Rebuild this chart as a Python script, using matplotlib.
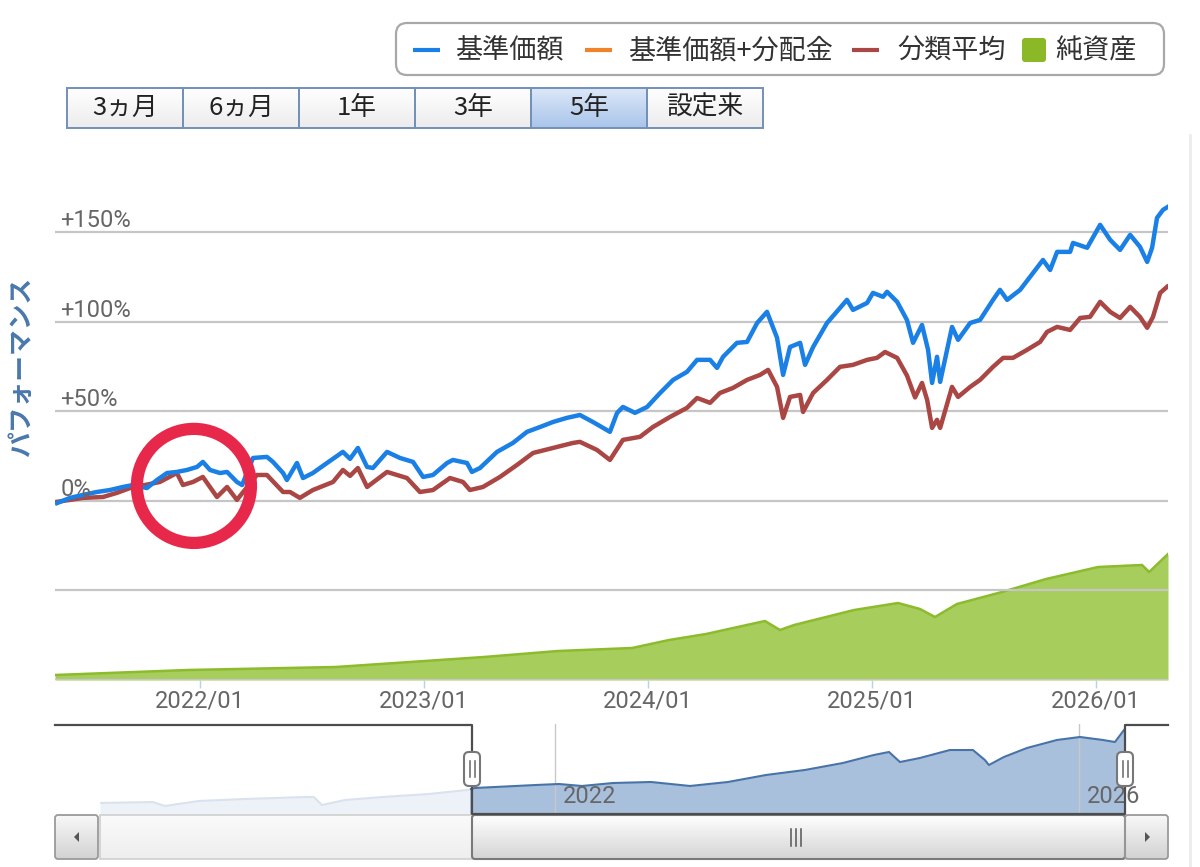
import matplotlib
matplotlib.use('Agg')
import matplotlib.pyplot as plt
import numpy as np
from matplotlib.patches import FancyBboxPatch, Rectangle, Ellipse, Polygon
from matplotlib.colors import LinearSegmentedColormap

plt.rcParams['font.family'] = ['Noto Sans CJK JP', 'DejaVu Sans']

# ---------------- data ----------------
# time axis values are decimal years
blue_t = [2021.362, 2021.420, 2021.478, 2021.540, 2021.598, 2021.656, 2021.701, 2021.763, 2021.808, 2021.853,
          2021.897, 2021.942, 2021.987, 2022.013, 2022.045, 2022.089, 2022.121, 2022.165, 2022.188, 2022.237,
          2022.299, 2022.326, 2022.371, 2022.388, 2022.433, 2022.460, 2022.504, 2022.567, 2022.638, 2022.670,
          2022.705, 2022.746, 2022.772, 2022.835, 2022.893, 2022.951, 2022.996, 2023.040, 2023.103, 2023.129,
          2023.192, 2023.214, 2023.250, 2023.326, 2023.397, 2023.460, 2023.518, 2023.576, 2023.638, 2023.696,
          2023.754, 2023.830, 2023.862, 2023.888, 2023.942, 2023.996, 2024.054, 2024.112, 2024.174, 2024.219,
          2024.277, 2024.308, 2024.335, 2024.397, 2024.442, 2024.487, 2024.531, 2024.576, 2024.603, 2024.634,
          2024.679, 2024.701, 2024.737, 2024.799, 2024.857, 2024.888, 2024.915, 2024.978, 2025.004, 2025.049,
          2025.067, 2025.112, 2025.156, 2025.183, 2025.223, 2025.250, 2025.268, 2025.290, 2025.304, 2025.357,
          2025.384, 2025.438, 2025.482, 2025.540, 2025.571, 2025.603, 2025.661, 2025.719, 2025.763, 2025.795,
          2025.826, 2025.884, 2025.897, 2025.960, 2026.018, 2026.063, 2026.107, 2026.152, 2026.196, 2026.228,
          2026.250, 2026.272, 2026.299, 2026.321]
blue_pct = [-1.2, 1.7, 3.4, 5.0, 6.1, 7.8, 8.9, 7.2, 11.7, 15.6,
            16.2, 17.3, 19.0, 21.8, 17.3, 15.6, 16.2, 10.6, 8.9, 24.0,
            24.6, 21.8, 15.6, 11.7, 21.2, 12.8, 15.6, 21.2, 27.4, 23.5,
            29.6, 19.0, 18.4, 27.4, 24.0, 21.8, 13.4, 14.5, 21.2, 22.9,
            21.2, 16.2, 18.4, 27.4, 32.4, 38.6, 41.3, 44.1, 46.4, 48.0,
            44.1, 38.6, 49.2, 52.5, 49.2, 52.5, 60.3, 67.6, 72.1, 78.8,
            78.8, 74.3, 80.5, 88.3, 88.8, 99.4, 105.6, 91.1, 70.4, 86.0,
            88.3, 76.0, 86.0, 99.4, 107.8, 112.3, 106.7, 110.6, 116.2, 114.0,
            116.8, 111.2, 101.0, 88.3, 98.3, 84.4, 65.9, 80.5, 66.5, 97.2,
            90.0, 99.4, 101.1, 112.3, 117.9, 112.3, 117.9, 127.4, 134.6, 129.0,
            139.1, 139.1, 144.1, 141.4, 154.2, 145.8, 140.2, 148.6, 141.9, 133.5,
            141.4, 158.1, 162.6, 164.3]

avg_t = [2021.362, 2021.478, 2021.567, 2021.629, 2021.688, 2021.821, 2021.897, 2021.924, 2021.969, 2022.013,
         2022.076, 2022.121, 2022.165, 2022.254, 2022.299, 2022.371, 2022.402, 2022.446, 2022.504, 2022.594,
         2022.638, 2022.670, 2022.705, 2022.746, 2022.835, 2022.924, 2022.982, 2023.040, 2023.116, 2023.174,
         2023.205, 2023.263, 2023.339, 2023.415, 2023.487, 2023.576, 2023.665, 2023.696, 2023.772, 2023.830,
         2023.888, 2023.964, 2024.022, 2024.098, 2024.174, 2024.219, 2024.277, 2024.321, 2024.379, 2024.442,
         2024.500, 2024.536, 2024.576, 2024.603, 2024.634, 2024.679, 2024.692, 2024.737, 2024.799, 2024.857,
         2024.915, 2024.978, 2025.022, 2025.058, 2025.112, 2025.156, 2025.192, 2025.223, 2025.246, 2025.268,
         2025.290, 2025.304, 2025.357, 2025.384, 2025.438, 2025.482, 2025.540, 2025.585, 2025.629, 2025.692,
         2025.750, 2025.781, 2025.826, 2025.884, 2025.929, 2025.973, 2026.018, 2026.063, 2026.107, 2026.152,
         2026.196, 2026.228, 2026.254, 2026.286, 2026.317]
avg_pct = [-0.5, 1.7, 2.2, 4.5, 7.2, 10.6, 15.6, 8.9, 10.6, 13.4,
           2.2, 7.8, 0.6, 14.5, 14.5, 5.0, 5.0, 1.7, 6.1, 10.6,
           17.3, 14.0, 18.4, 7.8, 16.2, 12.8, 5.0, 6.1, 12.8, 10.6,
           6.1, 7.8, 13.4, 20.1, 26.8, 29.6, 32.4, 33.0, 28.5, 22.9,
           34.1, 35.8, 41.3, 46.9, 52.0, 57.5, 54.8, 60.3, 63.1, 67.6,
           70.4, 73.2, 63.7, 46.4, 58.1, 59.2, 49.7, 60.3, 67.6, 74.9,
           76.0, 78.8, 79.9, 83.2, 79.9, 70.0, 57.8, 65.9, 56.4, 40.8,
           45.3, 40.8, 63.7, 58.1, 63.7, 67.6, 74.9, 79.9, 79.9, 84.4,
           88.8, 94.4, 97.2, 95.5, 102.2, 102.8, 111.2, 105.6, 102.2, 108.4,
           102.8, 96.7, 102.8, 116.2, 119.6]

assets_t = [2021.353, 2021.946, 2022.607, 2022.938, 2023.268, 2023.598, 2023.929, 2024.094, 2024.259, 2024.522,
            2024.589, 2024.652, 2024.920, 2025.116, 2025.214, 2025.281, 2025.379, 2025.580, 2025.777, 2026.009,
            2026.205, 2026.237, 2026.321]
assets_val = [1.0, 2.0, 2.6, 3.6, 4.6, 5.8, 6.4, 8.0, 9.2, 11.8,
              10.0, 11.0, 14.0, 15.4, 14.2, 12.6, 15.2, 17.6, 20.2, 22.6,
              23.0, 21.6, 25.2]

nav_t = [2018.527, 2018.931, 2019.023, 2019.282, 2019.634, 2020.099, 2020.160, 2020.221, 2020.397, 2020.687,
         2021.038, 2021.328, 2021.389, 2021.855, 2022.031, 2022.206, 2022.443, 2022.733, 2023.031, 2023.321,
         2023.611, 2023.908, 2024.198, 2024.435, 2024.550, 2024.634, 2024.786, 2025.015, 2025.191, 2025.282,
         2025.313, 2025.427, 2025.603, 2025.832, 2026.008, 2026.183, 2026.275, 2026.344]
nav_idx = [64.5, 67.2, 56.3, 70.0, 75.4, 80.9, 80.9, 59.0, 72.7, 80.9,
           89.1, 100.0, 105.5, 113.7, 116.4, 111.0, 119.1, 121.9, 111.0, 121.9,
           141.0, 154.7, 173.8, 195.7, 203.9, 176.5, 187.5, 209.3, 209.3, 182.0,
           168.3, 190.2, 214.8, 236.7, 244.9, 236.7, 231.2, 264.0]

series_names = ['基準価額', '基準価額+分配金', '分類平均', '純資産']
series_colors = ['#1a80e5', '#f0822a', '#aa4643', '#8ab827']
range_buttons = ['3ヵ月', '6ヵ月', '1年', '3年', '5年', '設定来']
selected_button = 4
x_tick_years = [2022, 2023, 2024, 2025, 2026]
x_tick_labels = ['2022/01', '2023/01', '2024/01', '2025/01', '2026/01']
grid_vals = [-100, -50, 0, 50, 100, 150]
label_vals = [0, 50, 100, 150]
y_labels = ['0%', '+50%', '+100%', '+150%']
nav_tick_years = [2022, 2026]
nav_tick_labels = ['2022', '2026']
y_title = 'パフォーマンス'

# ---------------- layout ----------------
W, H = 1200, 867
fig = plt.figure(figsize=(W / 100, H / 100), dpi=100)
fig.patch.set_facecolor('white')


def box(x0, y0, x1, y1):
    return [x0 / W, 1 - y1 / H, (x1 - x0) / W, (y1 - y0) / H]


PL, PR, PT, PB = 55, 1168, 150, 680
x_start, x_end = 2021.353, 2026.321

# net assets (own scale, drawn underneath)
ax_g = fig.add_axes(box(PL, PT, PR, PB), zorder=1)
ax_g.fill_between(assets_t, assets_val, 0, color='#a7cd5c', lw=0)
ax_g.plot(assets_t, assets_val, color='#8cbb2c', lw=1.8)
ax_g.set_xlim(x_start, x_end)
ax_g.set_ylim(0, 106)
ax_g.axis('off')

# performance axes
ax = fig.add_axes(box(PL, PT, PR, PB), zorder=2)
ax.patch.set_alpha(0)
for s in ax.spines.values():
    s.set_visible(False)
ax.set_xlim(x_start, x_end)
ax.set_ylim(-100, 196)
ax.set_yticks(grid_vals)
ax.yaxis.grid(True, color='#c6c6c6', lw=1.6)
ax.set_axisbelow(True)
ax.tick_params(axis='y', length=0, labelleft=False)
ax.set_xticks(x_tick_years)
ax.set_xticklabels(x_tick_labels, fontfamily=['Roboto', 'DejaVu Sans'])
ax.tick_params(axis='x', length=6, width=1, color='#c0d0e0', labelsize=17,
               labelcolor='#666666', pad=1)
ax.plot(avg_t, avg_pct, color=series_colors[2], lw=3.2, solid_joinstyle='round')
ax.plot(blue_t, blue_pct, color=series_colors[0], lw=3.2, solid_joinstyle='round')
for v, lab in zip(label_vals, y_labels):
    ax.annotate(lab, xy=(0, v), xycoords=('axes fraction', 'data'), xytext=(4, 0),
                textcoords='offset points', va='bottom', ha='left', color='#666666',
                fontsize=17, fontfamily=['Roboto', 'DejaVu Sans'])

# red highlight circle
ax.add_patch(Ellipse((2021.973, 8.4), width=0.509, height=63.7, fill=False,
                     ec='#e8284b', lw=8.8, clip_on=False, zorder=5))

# navigator
axn = fig.add_axes(box(100, 724, 1124, 815), zorder=2)
axn.fill_between(nav_t, nav_idx, 31.7, color='#a9c0dd', lw=0)
axn.plot(nav_t, nav_idx, color='#4873a8', lw=1.5)
axn.set_xlim(nav_t[0], nav_t[-1])
axn.set_ylim(31.7, 280.4)
for s in axn.spines.values():
    s.set_visible(False)
axn.set_yticks([])
axn.set_xticks(nav_tick_years)
axn.xaxis.grid(True, color='#c8c8c8', lw=1)
axn.tick_params(axis='x', length=0, labelbottom=False)
axn.axvspan(nav_t[0], x_start, color='white', alpha=0.8, lw=0, zorder=3)
for yr, lab in zip(nav_tick_years, nav_tick_labels):
    axn.annotate(lab, xy=(yr, 0.2), xycoords=('data', 'axes fraction'), xytext=(6, 0),
                 textcoords='offset points', ha='left', va='center', color='#666666',
                 fontsize=17, fontfamily=['Roboto', 'DejaVu Sans'], zorder=4)

# ---------------- overlay decorations ----------------
ov = fig.add_axes([0, 0, 1, 1], zorder=5)
ov.patch.set_alpha(0)
ov.axis('off')


def grad(x0, y0, x1, y1, c_top, c_bot, z=1):
    cm = LinearSegmentedColormap.from_list('g', [c_top, c_bot])
    ov.imshow(np.linspace(0, 1, 64).reshape(-1, 1), extent=(x0, x1, y1, y0), cmap=cm,
              aspect='auto', zorder=z, interpolation='bilinear')


# legend box
ov.add_patch(FancyBboxPatch((396, 23), 768, 52, boxstyle='round,pad=0,rounding_size=11',
                            fc='white', ec='#a8a8a8', lw=1.6, zorder=2))
line_x = [413, 585, 852]
text_x = [455, 628, 897, 1055]
for i in range(3):
    ov.plot([line_x[i], line_x[i] + 27], [50, 50], color=series_colors[i], lw=3,
            solid_capstyle='butt', zorder=3)
ov.add_patch(FancyBboxPatch((1022, 38), 24, 24, boxstyle='round,pad=0,rounding_size=3',
                            fc=series_colors[3], ec='none', zorder=3))
for i, name in enumerate(series_names):
    ov.text(text_x[i], 51, name, ha='left', va='center', fontsize=19.5, color='#333333', zorder=3)

# range selector buttons
for i, lab in enumerate(range_buttons):
    x0 = 67 + 116 * i
    if i == selected_button:
        grad(x0, 88, x0 + 116, 128, '#dce8f8', '#a9c4ea', z=1)
    else:
        grad(x0, 88, x0 + 116, 128, '#ffffff', '#ececec', z=1)
    ov.add_patch(Rectangle((x0, 88), 116, 40, fill=False, ec='#7390b8', lw=1.4, zorder=2))
    ov.text(x0 + 58, 108, lab, ha='center', va='center', fontsize=18.5, color='#222222', zorder=3)

# y axis title
ov.text(22, 367, y_title, rotation=90, ha='center', va='center', color='#4a78ad',
        fontsize=18.5, fontweight='bold')

# scrollbar
grad(100, 815, 1125, 859, '#fafafa', '#eeeeee', z=1)
ov.add_patch(Rectangle((100, 815), 1025, 44, fill=False, ec='#cfcfcf', lw=1.2, zorder=2))
grad(472, 815, 1125, 859, '#ffffff', '#d4d4d4', z=2)
ov.add_patch(FancyBboxPatch((472, 815), 653, 44, boxstyle='round,pad=0,rounding_size=3',
                            fill=False, ec='#7a7a7a', lw=1.5, zorder=3))
for gx in (791, 796, 801):
    ov.plot([gx, gx], [829, 846], color='#555555', lw=1.1, zorder=4)
for bx0 in (55, 1125):
    grad(bx0, 815, bx0 + 43, 859, '#f8f8f8', '#d2d2d2', z=2)
    ov.add_patch(FancyBboxPatch((bx0, 815), 43, 44, boxstyle='round,pad=0,rounding_size=3',
                                fill=False, ec='#9a9a9a', lw=1.3, zorder=3))
ov.add_patch(Polygon([[74, 837], [79, 832], [79, 842]], closed=True, fc='#555555', ec='none', zorder=4))
ov.add_patch(Polygon([[1150, 837], [1145, 832], [1145, 842]], closed=True, fc='#555555', ec='none', zorder=4))

# navigator outline and handles
ov.plot([55, 472, 472, 1125, 1125, 1168], [725, 725, 814, 814, 725, 725],
        color='#4d4d4d', lw=1.6, zorder=5)
for hx in (472, 1125):
    ov.add_patch(FancyBboxPatch((hx - 8, 752), 16, 34, boxstyle='round,pad=0,rounding_size=5',
                                fc='white', ec='#777777', lw=1.5, zorder=6))
    for lx in (hx - 2.5, hx + 2.5):
        ov.plot([lx, lx], [761, 777], color='#666666', lw=1.1, zorder=7)

# faint right edge line
ov.plot([1190, 1190], [135, 867], color='#ececec', lw=2, zorder=0)

ov.set_xlim(0, W)
ov.set_ylim(H, 0)

fig.savefig('out.png', dpi=100, facecolor='white')
